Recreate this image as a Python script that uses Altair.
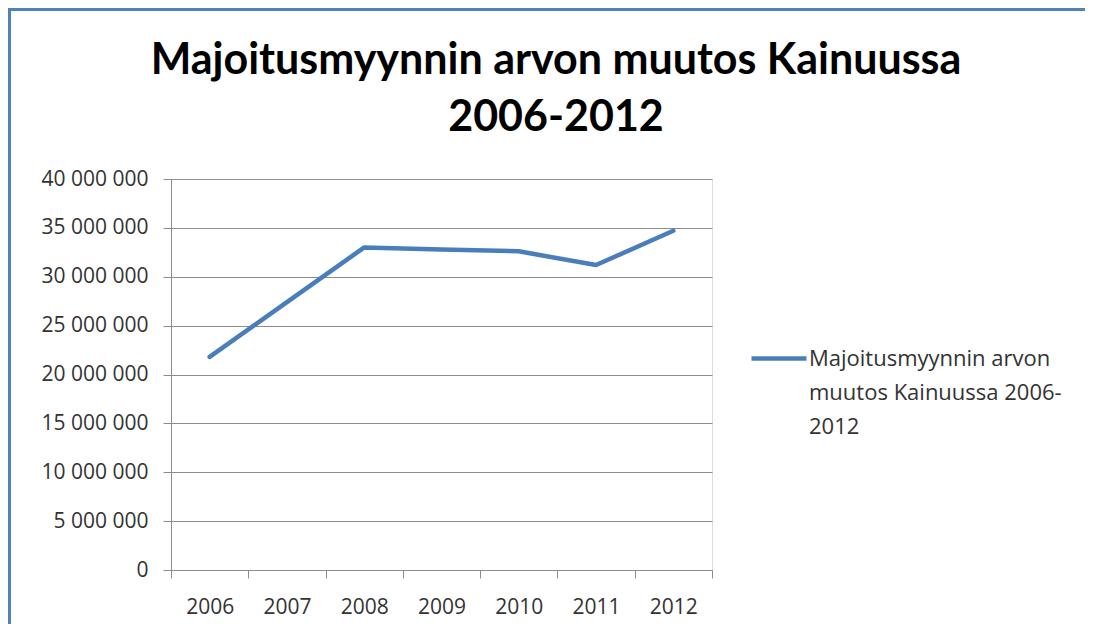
import json
import altair as alt
import pandas as pd

years = ["2006", "2007", "2008", "2009", "2010", "2011", "2012"]
values = [21800000, 27400000, 33000000, 32800000, 32600000, 31200000, 34700000]
series_name = "Majoitusmyynnin arvon muutos Kainuussa 2006-2012"
title_lines = ["Majoitusmyynnin arvon muutos Kainuussa", "2006-2012"]
legend_lines = ["Majoitusmyynnin arvon", "muutos Kainuussa 2006-", "2012"]
y_ticks = [0, 5000000, 10000000, 15000000, 20000000, 25000000, 30000000, 35000000, 40000000]

df = pd.DataFrame({"Vuosi": years, "Arvo": values, "Sarja": [series_name] * len(years)})

LINE_BLUE = "#4a7ebb"
BORDER_BLUE = "#4f81bd"
GRID = "#8c8c8c"
TEXT = "#333333"

line = alt.Chart(df).mark_line(
    strokeWidth=4.5, strokeCap="round", strokeJoin="round"
).encode(
    x=alt.X(
        "Vuosi:O",
        bandPosition=0.5,
        scale=alt.Scale(type="band", paddingInner=0, paddingOuter=0),
        axis=alt.Axis(
            title=None, labelAngle=0, tickBand="extent", tickSize=8,
            tickColor=GRID, domainColor=GRID, labelPadding=18,
            labelFont="Open Sans", labelFontSize=21, labelColor=TEXT, grid=False,
        ),
    ),
    y=alt.Y(
        "Arvo:Q",
        scale=alt.Scale(domain=[0, 40000000], nice=False),
        axis=alt.Axis(
            title=None, values=y_ticks,
            labelExpr="replace(replace(format(datum.value, ','), ',', ' '), ',', ' ')",
            grid=True, gridColor=GRID,
            tickSize=8, tickColor=GRID, domainColor=GRID, labelPadding=15,
            labelFont="Open Sans", labelFontSize=21, labelColor=TEXT,
        ),
    ),
    color=alt.Color(
        "Sarja:N",
        scale=alt.Scale(range=[LINE_BLUE]),
        legend=alt.Legend(
            title=None, orient="none", legendX=578, legendY=149.5, padding=0,
            symbolType="stroke", symbolSize=3025, symbolStrokeWidth=4.5,
            symbolStrokeColor=LINE_BLUE,
            labelExpr=json.dumps(legend_lines), labelBaseline="middle",
            labelFont="Open Sans", labelFontSize=22, labelColor=TEXT,
            labelOffset=0, labelLimit=0,
        ),
    ),
)

left_border = alt.Chart(df).mark_rule(color=BORDER_BLUE, strokeWidth=3).encode(
    x=alt.value(-161.5), y=alt.value(-171), y2=alt.value(445)
)
top_border = alt.Chart(df).mark_rule(color=BORDER_BLUE, strokeWidth=3).encode(
    y=alt.value(-170), x=alt.value(-163), x2=alt.value(914)
)

chart = alt.layer(line, left_border, top_border).properties(
    width=541,
    height=391,
    autosize=alt.AutoSizeParams(type="none"),
    padding={"left": 163, "top": 171, "right": 373, "bottom": 54},
    title=alt.TitleParams(
        text=title_lines, font="Lato", fontSize=43, fontWeight="bold",
        color="black", anchor="middle", dx=114.5, offset=-133,
        lineHeight=57, baseline="top",
    ),
).configure_view(stroke=None).configure(
    style={"guide-label": {"lineHeight": 34}},
)

chart.save("out.html", embed_options={"renderer": "svg", "actions": False})
